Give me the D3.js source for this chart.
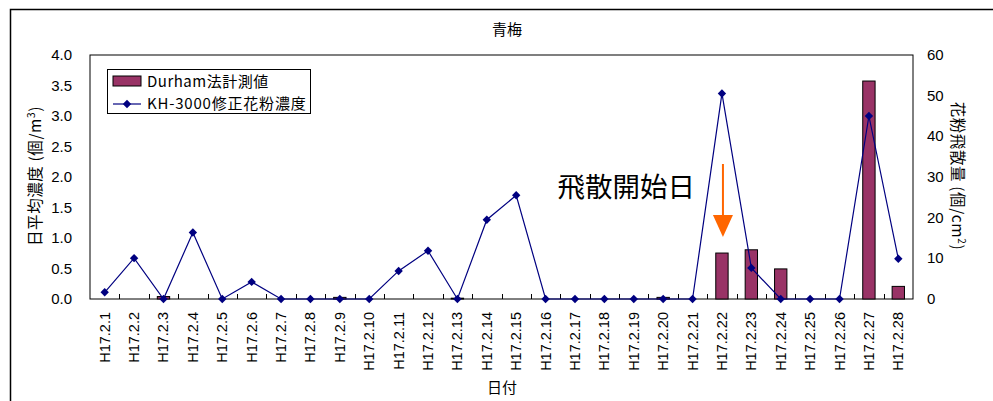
<!DOCTYPE html>
<html><head><meta charset="utf-8">
<script src="https://cdn.jsdelivr.net/npm/d3@7"></script>
<style>
html,body{margin:0;padding:0;background:#fff;}
svg{display:block;}
text{font-family:"Liberation Sans",Arial,sans-serif;}
.jp{font-family:"Noto Sans CJK JP","Liberation Sans",sans-serif;}
</style></head>
<body>
<svg id="chart" width="993" height="401"></svg>
<script>
const categories = ["H17.2.1","H17.2.2","H17.2.3","H17.2.4","H17.2.5","H17.2.6","H17.2.7","H17.2.8","H17.2.9","H17.2.10","H17.2.11","H17.2.12","H17.2.13","H17.2.14","H17.2.15","H17.2.16","H17.2.17","H17.2.18","H17.2.19","H17.2.20","H17.2.21","H17.2.22","H17.2.23","H17.2.24","H17.2.25","H17.2.26","H17.2.27","H17.2.28"];
const khValues = [0.11,0.67,0,1.09,0,0.28,0,0,0,0,0.46,0.79,0,1.30,1.70,0,0,0,0,0,0,3.37,0.51,0,0,0,3.00,0.66];
const durhamValues = [0,0,0.6,0,0,0,0,0,0.4,0,0,0,0.2,0,0,0,0,0,0,0.4,0,11.3,12.1,7.4,0,0,53.6,3.1];
const leftTicks = [0,0.5,1.0,1.5,2.0,2.5,3.0,3.5,4.0];
const rightTicks = [0,10,20,30,40,50,60];
const titleText = "青梅";
const seriesNames = ["Durham法計測値","KH-3000修正花粉濃度"];
const annotationText = "飛散開始日";
const annotationIndex = 21;

const svg = d3.select("#chart");
const L = 90, R = 913, T = 55, B = 299;

// outer frame
svg.append("rect").attr("x",10.5).attr("y",9.5).attr("width",1000).attr("height",500)
  .attr("fill","none").attr("stroke","#000").attr("stroke-width",1.5);

const x = d3.scaleBand().domain(categories).range([L,R]).padding(0);
const yL = d3.scaleLinear().domain([0,4]).range([B,T]);
const yR = d3.scaleLinear().domain([0,60]).range([B,T]);

// plot border
svg.append("rect").attr("x",L).attr("y",T).attr("width",R-L).attr("height",B-T)
  .attr("fill","none").attr("stroke","#000").attr("stroke-width",1);

// bars
const bw = x.bandwidth()*0.42;
svg.append("g").selectAll("rect").data(durhamValues).join("rect")
  .attr("x",(d,i)=>x(categories[i])+x.bandwidth()/2-bw/2)
  .attr("y",d=>yR(d))
  .attr("width",bw)
  .attr("height",d=>B-yR(d))
  .attr("fill","#993366").attr("stroke","#000").attr("stroke-width",1)
  .attr("display",d=>d>0?null:"none");

// x axis ticks (inside, at band boundaries)
const xb = svg.append("g");
for(let i=1;i<categories.length;i++){
  const xx = Math.round(L + i*x.bandwidth())+0.5;
  xb.append("line").attr("x1",xx).attr("x2",xx).attr("y1",B).attr("y2",B-5).attr("stroke","#000");
}
// x labels
svg.append("g").selectAll("text").data(categories).join("text")
  .attr("transform",d=>`translate(${x(d)+x.bandwidth()/2+5},312) rotate(-90)`)
  .attr("text-anchor","end").attr("font-size",14.5).attr("fill","#000").text(d=>d);

// line
const line = d3.line().x((d,i)=>x(categories[i])+x.bandwidth()/2).y(d=>yL(d));
svg.append("path").datum(khValues).attr("d",line).attr("fill","none")
  .attr("stroke","#000080").attr("stroke-width",1.2);
svg.append("g").selectAll("path").data(khValues).join("path")
  .attr("d",d3.symbol(d3.symbolDiamond2,45))
  .attr("transform",(d,i)=>`translate(${x(categories[i])+x.bandwidth()/2},${yL(d)})`)
  .attr("fill","#000080");

// left axis labels
svg.append("g").selectAll("text").data(leftTicks).join("text")
  .attr("x",72).attr("y",d=>yL(d)+5).attr("text-anchor","end").attr("font-size",15)
  .text(d=>d.toFixed(1));
// right axis labels
svg.append("g").selectAll("text").data(rightTicks).join("text")
  .attr("x",927).attr("y",d=>yR(d)+5).attr("text-anchor","start").attr("font-size",15)
  .text(d=>d);

// title
svg.append("text").attr("class","jp").attr("x",507).attr("y",35).attr("text-anchor","middle")
  .attr("font-size",15).text(titleText);
// x title
svg.append("text").attr("class","jp").attr("x",502).attr("y",393).attr("text-anchor","middle")
  .attr("font-size",15).text("日付");
// left title
const lt = svg.append("text").attr("class","jp").attr("transform","translate(41,176) rotate(-90)")
  .attr("text-anchor","middle").attr("font-size",15.5).attr("letter-spacing",0.6);
lt.append("tspan").text("日平均濃度 (個/m");
lt.append("tspan").attr("font-size",10).attr("dy",-6).text("3");
lt.append("tspan").attr("dy",6).text(")");
// right title
const rt = svg.append("text").attr("class","jp").attr("transform","translate(952,176) rotate(90)")
  .attr("text-anchor","middle").attr("font-size",15.5).attr("letter-spacing",0.6);
rt.append("tspan").text("花粉飛散量 (個/cm");
rt.append("tspan").attr("font-size",10).attr("dy",-6).text("2");
rt.append("tspan").attr("dy",6).text(")");

// legend
const lg = svg.append("g");
lg.append("rect").attr("x",107.5).attr("y",69.5).attr("width",203).attr("height",44)
  .attr("fill","#fff").attr("stroke","#000");
lg.append("rect").attr("x",113).attr("y",76).attr("width",28).attr("height",10)
  .attr("fill","#993366").attr("stroke","#000");
lg.append("text").attr("class","jp").attr("x",147).attr("y",87).attr("font-size",15)
  .attr("letter-spacing",0.5).text(seriesNames[0]);
lg.append("line").attr("x1",113).attr("x2",141).attr("y1",104).attr("y2",104)
  .attr("stroke","#000080").attr("stroke-width",1.2);
lg.append("path").attr("d",d3.symbol(d3.symbolDiamond2,45)).attr("transform","translate(127,104)").attr("fill","#000080");
lg.append("text").attr("class","jp").attr("x",147).attr("y",109).attr("font-size",15)
  .attr("letter-spacing",0.8).text(seriesNames[1]);

// annotation
const ax = x(categories[annotationIndex])+x.bandwidth()/2+1;
svg.append("text").attr("class","jp").attr("x",695).attr("y",197).attr("text-anchor","end")
  .attr("font-size",27.5).text(annotationText);
svg.append("line").attr("x1",ax).attr("x2",ax).attr("y1",164).attr("y2",216)
  .attr("stroke","#FF6600").attr("stroke-width",2);
svg.append("path").attr("d",`M${ax-10},215 L${ax+10},215 L${ax},237 Z`).attr("fill","#FF6600");
</script>
</body></html>
